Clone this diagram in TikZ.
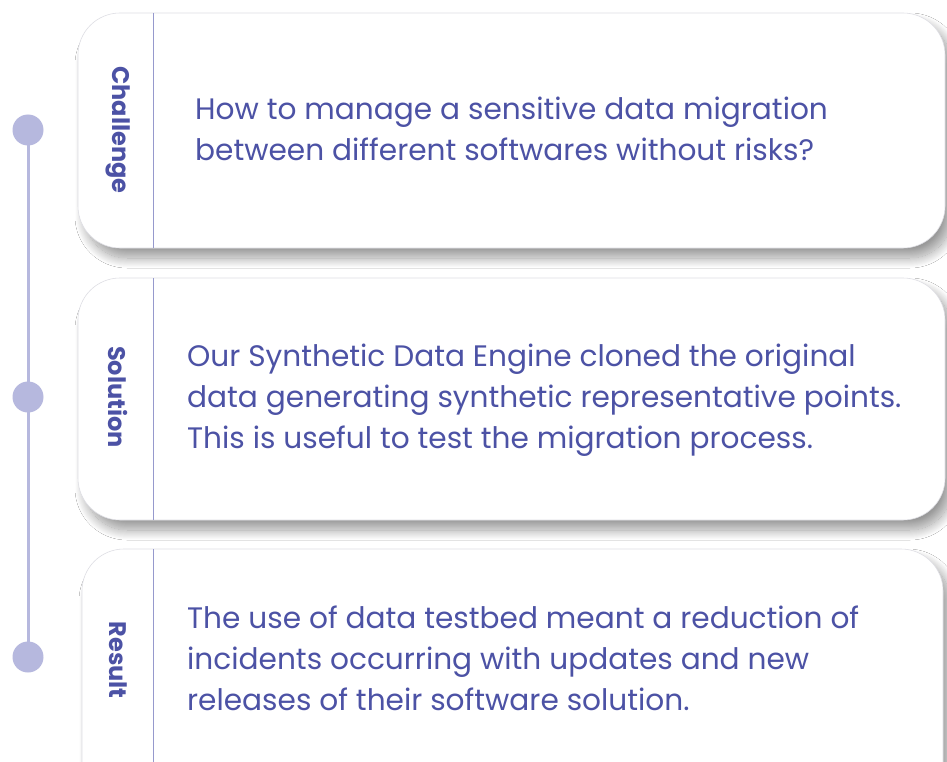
\documentclass[tikz,border=0pt]{standalone}
\usepackage{fontspec}
\setmainfont{Poppins}
\usetikzlibrary{shadows.blur}
\definecolor{ink}{RGB}{76,82,165}
\definecolor{dot}{RGB}{182,184,222}
\definecolor{rule}{RGB}{150,153,205}
\definecolor{edge}{RGB}{222,222,228}
\begin{document}
\begin{tikzpicture}[x=1pt,y=-1pt,
  card/.style={draw=edge, line width=0.6pt, fill=white, rounded corners=42pt,
    blur shadow={shadow xshift=7pt, shadow yshift=-10pt, shadow blur radius=10pt, shadow blur steps=20, shadow opacity=40}},
  tag/.style={rotate=-90, text=ink, font=\bfseries\fontsize{24}{27}\selectfont},
  body/.style={anchor=west, align=left, text=ink, inner sep=0pt, font=\fontsize{29.6}{41}\selectfont},
  dotnode/.style={circle, fill=dot, minimum size=31pt, inner sep=0pt},
  divider/.style={draw=rule, line width=0.9pt}]
\useasboundingbox (0,0) rectangle (947,762);
\clip (0,0) rectangle (947,762);
\fill[white] (0,0) rectangle (947,762);
% timeline
\node[dotnode] (d1) at (28,130) {};
\node[dotnode] (d2) at (28,397) {};
\node[dotnode] (d3) at (28,657) {};
\draw[dot, line width=3pt] (d1.center) -- (d3.center);
% cards
\node[card, minimum width=867pt, minimum height=235pt] (c1) at (511.5,130.5) {};
\node[card, minimum width=867pt, minimum height=242pt] (c2) at (511.5,399) {};
\node[card, minimum width=861pt, minimum height=260pt] (c3) at (512.5,679) {};
\draw[divider] (153,13) -- (153,248);
\draw[divider] (153,278) -- (153,520);
\draw[divider] (153,549) -- (153,762);
% labels
\node[tag] (l1) at (118,130) {Challenge};
\node[tag] (l2) at (118,397) {Solution};
\node[tag] (l3) at (118,660) {Result};
% texts
\node[body] (t1) at (195,129) {How to manage a sensitive data migration\\between different softwares without risks?};
\node[body] (t2) at (187,400) {Our Synthetic Data Engine cloned the original\\data generating synthetic representative points.\\This is useful to test the migration process.};
\node[body] (t3) at (187,658) {The use of data testbed meant a reduction of\\incidents occurring with updates and new\\releases of their software solution.};
\end{tikzpicture}
\end{document}
